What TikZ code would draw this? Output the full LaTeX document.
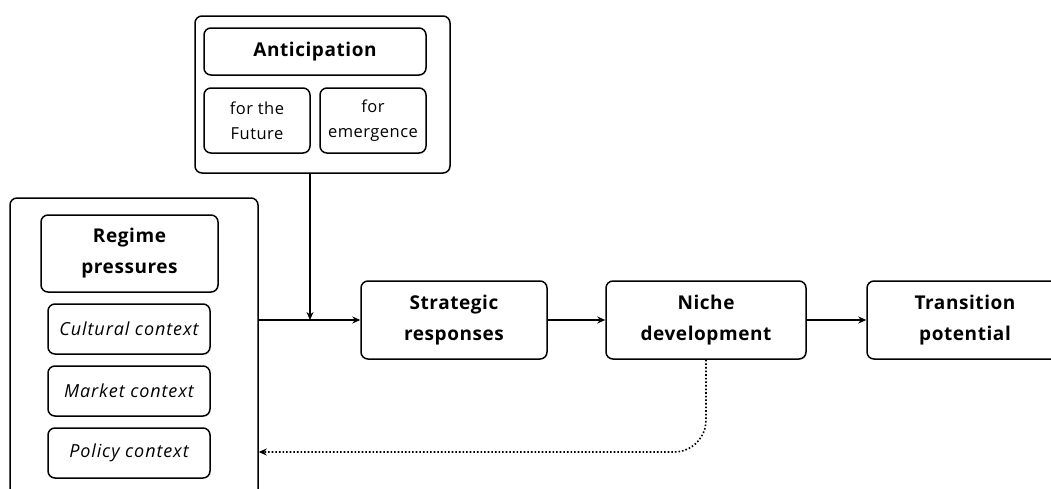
\documentclass[tikz,border=0pt]{standalone}
\usepackage{fontspec}
\usetikzlibrary{arrows.meta}
\setmainfont{Open Sans}
\newfontfamily\boldsp[LetterSpace=3]{Open Sans}
\newfontfamily\subsp[LetterSpace=3]{Open Sans}
\newfontfamily\itsp[LetterSpace=5]{Open Sans}
\begin{document}
\begin{tikzpicture}[x=1pt,y=-1pt,>={Stealth[length=8pt,width=7pt]},
    box/.style={draw, line width=1.5pt, rounded corners=7pt, align=center, inner sep=2pt},
    head/.style={box, font=\boldsp\fontsize{19}{31}\selectfont\bfseries},
    sub/.style={box, font=\subsp\fontsize{16.5}{25}\selectfont},
    ctx/.style={box, font=\itsp\fontsize{18}{20}\selectfont\itshape, minimum width=162pt, minimum height=50pt},
    link/.style={line width=1.6pt,->}]
  \useasboundingbox (0,0) rectangle (1051,488);
  \clip (0,0) rectangle (1051,488);
  % anticipation
  \node[box, minimum width=255pt, minimum height=157pt] (antic) at (322.5,94.5) {};
  \node[head, minimum width=222pt, minimum height=47pt] (antictitle) at (315,51.5) {Anticipation};
  \node[sub, minimum width=106pt, minimum height=65pt] (future) at (257,120.5) {for the\\Future};
  \node[sub, minimum width=106pt, minimum height=65pt] (emerg) at (373,120.5) {for\\emergence};
  % regime
  \node[box, minimum width=248pt, minimum height=300pt] (regime) at (134,348) {};
  \node[head, minimum width=177pt, minimum height=77pt] (regimetitle) at (129.5,253.5) {Regime\\pressures};
  \node[ctx] (cultural) at (129,329) {Cultural context};
  \node[ctx] (market) at (129,391) {Market context};
  \node[ctx] (policy) at (129,453) {Policy context};
  % main chain
  \node[head, minimum width=186pt, minimum height=78pt] (strat) at (454,320) {Strategic\\responses};
  \node[head, minimum width=200pt, minimum height=78pt] (niche) at (706,320) {Niche\\development};
  \node[head, minimum width=196pt, minimum height=78pt] (trans) at (965,320) {Transition\\potential};
  \draw[link] (regime.east |- strat.west) -- (strat.west);
  \draw[link] ([xshift=-12.5pt]antic.south) -- ([xshift=-12.5pt]antic.south |- strat.west);
  \draw[link] (strat) -- (niche);
  \draw[link] (niche) -- (trans);
  \draw[link,dotted,rounded corners=32pt] (niche.south) |- ([yshift=-104pt]regime.east);
\end{tikzpicture}
\end{document}
